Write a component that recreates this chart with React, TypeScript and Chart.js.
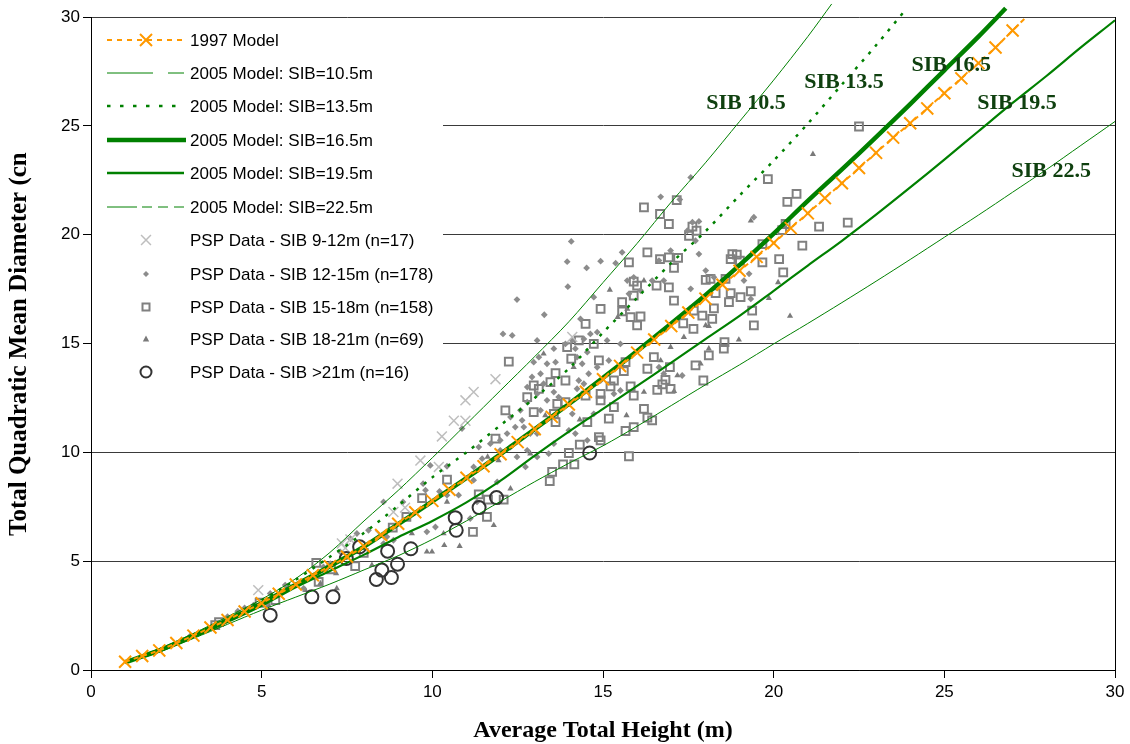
import React, { useEffect, useRef } from 'react';
import { Chart, registerables } from 'chart.js';

Chart.register(...registerables);

// ---------------- data ----------------
const xTickValues = [0, 5, 10, 15, 20, 25, 30];
const yTickValues = [0, 5, 10, 15, 20, 25, 30];

const h1997 = [1, 1.5, 2, 2.5, 3, 3.5, 4, 4.5, 5, 5.5, 6, 6.5, 7, 7.5, 8, 8.5, 9, 9.5, 10, 10.5, 11, 11.5, 12, 12.5, 13, 13.5, 14, 14.5, 15, 15.5, 16, 16.5, 17, 17.5, 18, 18.5, 19, 19.5, 20, 20.5, 21, 21.5, 22, 22.5, 23, 23.5, 24, 24.5, 25, 25.5, 26, 26.5, 27, 27.4];
const d1997 = [0.38, 0.64, 0.9, 1.24, 1.58, 1.95, 2.3, 2.69, 3.07, 3.5, 3.93, 4.35, 4.77, 5.2, 5.68, 6.2, 6.72, 7.25, 7.77, 8.28, 8.83, 9.36, 9.91, 10.47, 11.06, 11.63, 12.2, 12.78, 13.36, 13.97, 14.58, 15.18, 15.8, 16.42, 17.06, 17.7, 18.34, 18.98, 19.62, 20.3, 20.98, 21.68, 22.36, 23.06, 23.76, 24.46, 25.12, 25.8, 26.5, 27.18, 27.88, 28.6, 29.38, 30.0];

const hSib105 = [1, 2, 3, 4, 5, 6, 7, 8, 9, 10, 11, 12, 13, 14, 15, 16, 17, 18, 19, 20, 21, 21.7];
const dSib105 = [0.4, 0.98, 1.68, 2.45, 3.25, 4.2, 5.4, 6.85, 8.25, 9.75, 11.3, 12.85, 14.4, 16.0, 17.8, 19.6, 21.5, 23.3, 25.2, 27.1, 29.1, 30.6];

const hSib135 = [1, 2, 3, 4, 5, 6, 7, 8, 9, 10, 11, 12, 13, 14, 15, 16, 17, 18, 19, 20, 21, 22, 23, 23.9];
const dSib135 = [0.37, 0.9, 1.6, 2.35, 3.2, 4.15, 5.2, 6.3, 7.55, 8.85, 10.0, 11.25, 12.5, 13.85, 15.5, 17.1, 18.7, 20.15, 21.8, 23.4, 25.1, 26.9, 28.7, 30.4];

const hSib165 = [1, 2, 3, 4, 5, 6, 7, 8, 9, 10, 11, 12, 13, 14, 15, 16, 17, 18, 19, 20, 21, 22, 23, 24, 25, 26, 26.8];
const dSib165 = [0.36, 0.9, 1.58, 2.3, 3.07, 3.92, 4.77, 5.67, 6.7, 7.75, 8.82, 9.92, 11.07, 12.22, 13.42, 14.65, 15.92, 17.22, 18.6, 20.05, 21.55, 23.0, 24.48, 26.0, 27.55, 29.1, 30.4];

const hSib195 = [1, 2, 3, 4, 5, 6, 7, 8, 9, 10, 11, 12, 13, 14, 15, 16, 17, 18, 19, 20, 21, 22, 23, 24, 25, 26, 27, 28, 29, 30, 30.3];
const dSib195 = [0.35, 0.86, 1.5, 2.2, 2.95, 3.8, 4.55, 5.3, 6.1, 6.85, 7.7, 8.7, 9.85, 10.95, 12.0, 13.05, 14.12, 15.2, 16.27, 17.42, 18.58, 19.72, 20.92, 22.17, 23.45, 24.75, 26.05, 27.3, 28.6, 29.85, 30.25];

const hSib225 = [1, 2, 3, 4, 5, 6, 7, 8, 9, 10, 11, 12, 13, 14, 15, 16, 17, 18, 19, 20, 21, 22, 23, 24, 25, 26, 27, 28, 29, 30, 30.3];
const dSib225 = [0.33, 0.82, 1.45, 2.1, 2.75, 3.35, 3.95, 4.6, 5.25, 6.0, 6.85, 7.75, 8.65, 9.5, 10.3, 11.2, 12.15, 13.1, 14.02, 14.98, 15.92, 16.88, 17.86, 18.86, 19.88, 20.9, 21.95, 23.0, 24.1, 25.2, 25.55];

// PSP data: [height, diameter]
const psp9to12: number[][] = [
  [4.9, 3.67], [7.35, 5.81], [7.45, 5.6], [7.6, 6.0], [8.47, 6.19], [8.86, 7.26], [9.2, 7.46], [8.98, 8.56],
  [9.65, 9.62], [10.19, 9.33], [10.28, 10.73], [10.63, 11.45], [10.97, 11.45], [10.97, 12.39], [11.21, 12.77],
  [11.85, 13.36], [14.1, 15.3],
];

const psp12to15: number[][] = [
  [16.69, 21.74], [17.25, 21.61], [14.07, 19.69], [13.95, 18.76], [14.52, 18.47], [14.93, 18.78], [15.37, 18.69],
  [15.56, 19.19], [13.97, 17.61], [12.48, 17.02], [13.28, 16.32], [12.07, 15.44], [12.34, 15.37], [14.34, 16.13],
  [14.73, 17.13], [14.83, 15.52], [14.63, 15.44], [15.12, 15.14], [15.51, 14.98], [15.71, 17.89], [15.76, 17.28],
  [15.9, 18.04], [16.1, 17.43], [16.44, 17.89], [16.64, 18.81], [16.78, 17.89], [16.98, 19.27], [17.62, 20.57],
  [17.81, 20.61], [17.47, 20.18], [17.71, 19.72], [17.81, 19.11], [17.57, 17.51], [18.01, 18.35], [18.25, 18.04],
  [19.42, 20.8], [19.28, 18.2], [19.13, 17.89], [19.33, 17.05], [14.44, 15.21], [14.19, 14.76], [13.9, 14.98],
  [13.56, 14.76], [13.07, 15.14], [13.12, 14.37], [12.97, 14.14], [13.36, 14.07], [13.61, 14.14], [14.1, 15.14],
  [14.24, 14.37], [14.54, 14.6], [14.39, 14.07], [14.58, 13.61], [14.83, 13.91], [15.17, 14.22], [14.93, 13.3],
  [14.29, 13.3], [14.44, 13.15], [14.24, 12.92], [13.56, 12.77], [13.7, 12.54], [13.36, 12.39], [13.07, 12.69],
  [13.17, 11.93], [13.17, 13.61], [13.26, 13.15], [12.92, 13.46], [12.78, 13.0], [12.78, 12.31], [12.58, 11.93],
  [12.63, 11.47], [12.43, 11.16], [12.29, 11.62], [12.68, 11.16], [12.87, 10.86], [13.07, 10.86], [12.19, 10.86],
  [11.99, 10.55], [11.7, 10.4], [11.46, 9.71], [11.21, 9.33], [10.87, 11.09], [11.36, 10.24], [11.99, 10.09],
  [12.29, 10.24], [12.48, 9.79], [14.1, 11.77], [14.73, 11.77], [15.32, 12.69], [15.51, 12.84], [14.0, 11.01],
  [13.56, 10.4], [13.41, 9.94], [14.19, 10.86], [12.78, 10.09], [12.73, 9.33], [13.07, 9.79], [14.54, 10.55],
  [16.78, 13.61], [17.32, 13.53], [16.64, 13.91], [17.57, 22.63], [9.94, 9.4], [10.43, 9.36],
  [8.57, 7.72], [9.14, 7.72], [9.73, 8.56], [9.8, 8.26], [10.21, 8.2], [10.43, 8.03], [10.77, 8.03], [11.21, 8.72],
  [7.79, 6.27], [7.6, 6.04], [8.13, 6.42], [8.67, 6.12], [8.57, 5.81], [7.3, 5.43], [7.5, 5.2], [7.01, 4.89],
  [6.81, 4.74], [5.69, 3.9], [5.74, 3.75], [6.23, 3.75], [5.25, 3.52], [5.15, 3.06], [4.76, 2.98], [11.9, 8.64],
  [11.31, 7.72], [11.11, 6.96], [9.84, 6.35], [10.09, 6.57], [8.86, 5.96], [4.3, 2.7], [4.5, 2.85], [3.6, 1.95],
  [3.85, 2.15], [2.9, 1.55], [4.0, 2.45],
];

const psp15to18: number[][] = [
  [16.2, 21.25], [16.67, 20.95], [17.16, 21.59], [16.93, 20.49], [17.62, 20.37], [17.74, 20.18], [17.52, 19.95],
  [18.79, 19.11], [18.92, 19.08], [18.74, 18.88], [19.01, 18.81], [16.3, 19.19], [16.67, 18.88], [16.93, 18.96],
  [17.2, 18.93], [17.08, 18.47], [15.76, 18.73], [15.9, 17.84], [16.0, 17.66], [15.9, 17.2], [15.56, 16.9],
  [15.56, 16.48], [14.93, 16.59], [15.81, 16.21], [16.1, 16.24], [16.0, 15.83], [16.57, 17.66], [16.93, 17.58],
  [18.01, 17.92], [18.15, 17.97], [18.59, 17.97], [18.3, 17.31], [18.74, 17.31], [18.69, 16.9], [19.03, 17.13],
  [19.33, 17.4], [19.37, 16.51], [19.42, 15.83], [17.66, 16.51], [17.91, 16.28], [18.2, 16.13], [18.25, 16.61],
  [17.08, 16.97], [17.35, 15.93], [17.65, 15.67], [14.49, 15.9], [14.73, 14.98], [14.88, 14.22], [14.29, 15.14],
  [13.95, 14.83], [14.07, 14.3], [13.61, 13.64], [13.9, 13.3], [13.46, 13.23], [12.97, 13.07], [13.12, 12.92],
  [12.24, 14.17], [12.14, 11.93], [12.78, 12.54], [12.97, 11.85], [13.56, 11.77], [13.66, 12.23], [13.61, 11.39],
  [13.9, 12.31], [14.49, 12.61], [14.93, 12.69], [15.66, 14.14], [15.61, 13.73], [15.32, 13.3], [15.22, 13.03],
  [14.93, 12.39], [15.32, 12.08], [15.81, 13.03], [15.9, 12.61], [16.3, 13.84], [16.49, 14.37], [16.59, 12.87],
  [16.98, 12.92], [16.74, 13.12], [16.83, 13.33], [17.94, 13.3], [18.56, 15.06], [18.54, 14.76], [18.1, 14.45],
  [17.71, 13.99], [16.96, 13.91], [16.2, 12.0], [16.3, 11.59], [16.44, 11.47], [15.9, 11.16], [15.66, 10.98],
  [15.17, 11.55], [14.54, 11.39], [14.88, 10.7], [14.93, 10.55], [14.32, 10.35], [14.0, 9.97], [13.83, 9.45],
  [14.16, 9.45], [13.51, 9.1], [15.76, 9.82], [11.85, 10.63], [10.43, 8.75],
  [19.83, 22.55], [20.67, 21.87], [20.4, 21.51], [21.33, 20.37], [20.84, 19.5], [20.25, 20.21], [20.35, 20.49],
  [19.67, 19.57], [20.16, 18.88], [20.28, 18.27], [19.67, 18.73], [22.5, 24.97], [22.17, 20.55], [13.44, 8.68],
  [9.7, 7.9], [11.36, 8.07], [11.63, 7.83], [12.09, 7.83], [11.6, 7.03], [11.19, 6.35], [8.84, 6.54], [7.99, 5.38],
  [7.74, 4.77], [6.6, 4.92], [6.67, 4.05], [7.03, 4.62], [5.4, 3.21], [4.94, 3.09], [9.24, 7.03], [3.64, 2.06],
  [3.75, 2.2],
];

const psp18to21: number[][] = [
  [15.2, 17.46], [15.71, 16.59], [16.2, 17.89], [15.43, 16.21], [18.01, 15.83], [18.1, 15.8], [18.98, 15.17],
  [17.37, 15.29], [18.1, 14.76], [16.98, 14.83], [16.69, 14.22], [14.14, 13.91], [13.31, 11.7], [14.32, 11.5],
  [15.69, 11.7], [16.2, 12.77], [17.08, 12.81], [17.18, 13.53], [17.86, 14.07], [11.62, 9.79], [11.94, 9.63],
  [12.87, 9.94], [19.33, 20.64], [13.26, 14.53], [20.13, 17.81], [19.86, 17.08], [20.48, 16.26], [21.15, 23.7],
  [12.29, 8.33], [11.8, 6.65], [10.8, 5.69], [10.35, 5.73], [9.99, 5.43], [9.84, 5.43], [10.33, 6.27], [9.4, 6.27],
  [8.23, 4.82], [7.2, 3.75], [7.18, 4.44], [6.72, 3.98], [10.43, 7.72], [6.28, 3.67], [5.2, 2.98],
];

const psp21plus: number[][] = [
  [5.25, 2.52], [6.47, 3.36], [7.09, 3.36], [7.48, 5.12], [7.87, 5.66], [8.36, 4.16], [8.52, 4.59], [8.8, 4.25],
  [8.98, 4.86], [8.69, 5.46], [9.37, 5.57], [10.67, 7.0], [10.7, 6.42], [11.37, 7.46], [11.88, 7.92], [14.61, 9.97],
];

const seriesLabels = [
  '1997 Model',
  '2005 Model: SIB=10.5m',
  '2005 Model: SIB=13.5m',
  '2005 Model: SIB=16.5m',
  '2005 Model: SIB=19.5m',
  '2005 Model: SIB=22.5m',
  'PSP Data - SIB 9-12m (n=17)',
  'PSP Data - SIB 12-15m (n=178)',
  'PSP Data - SIB 15-18m (n=158)',
  'PSP Data - SIB 18-21m (n=69)',
  'PSP Data - SIB >21m (n=16)',
];

const curveLabels = ['SIB 10.5', 'SIB 13.5', 'SIB 16.5', 'SIB 19.5', 'SIB 22.5'];
const curveLabelX = [19.19, 22.06, 25.2, 27.13, 28.13];
const curveLabelY = [26.05, 27.0, 27.8, 26.05, 22.93];

const xTitle = 'Average Total Height (m)';
const yTitle = 'Total Quadratic Mean Diameter (cn';

// ---------------- styles ----------------
const ORANGE = '#FF9900';
const GREEN = '#008000';
const SANS = '"Liberation Sans", Arial, sans-serif';
const SERIF = '"Liberation Serif", "Times New Roman", serif';

const toPts = (xs: number[], ys: number[]) => xs.map((x, i) => ({ x, y: ys[i] }));
const pairPts = (arr: number[][]) => arr.map(([x, y]) => ({ x, y }));
const lineClip = { left: 0, top: 18, right: 15, bottom: 0 };

function drawCross(ctx: CanvasRenderingContext2D, x: number, y: number, r: number) {
  const o = r * Math.SQRT1_2;
  ctx.beginPath();
  ctx.moveTo(x - o, y - o);
  ctx.lineTo(x + o, y + o);
  ctx.moveTo(x + o, y - o);
  ctx.lineTo(x - o, y + o);
  ctx.stroke();
}

const overlayPlugin = {
  id: 'overlay',
  afterDraw(chart: any) {
    const ctx: CanvasRenderingContext2D = chart.ctx;
    const area = chart.chartArea;
    const xs = chart.scales.x;
    const ys = chart.scales.y;
    ctx.save();

    // right border of the plot area
    ctx.strokeStyle = '#000';
    ctx.lineWidth = 1;
    ctx.beginPath();
    ctx.moveTo(Math.round(area.right) + 0.5, area.top);
    ctx.lineTo(Math.round(area.right) + 0.5, area.bottom);
    ctx.stroke();

    // legend
    const lx0 = area.left + 1;
    const ly0 = area.top + 1;
    ctx.fillStyle = '#fff';
    ctx.fillRect(lx0, ly0, 351, 376);
    const rows = [40, 73, 106, 140, 173, 207, 240, 274, 307, 339, 372];
    const s0 = 107;
    const s1 = 184;
    const mx = 146;
    const seg = (a: number, b: number, y: number) => {
      ctx.beginPath();
      ctx.moveTo(a, y);
      ctx.lineTo(b, y);
      ctx.stroke();
    };
    ctx.lineCap = 'butt';
    // 1997 model
    ctx.strokeStyle = ORANGE;
    ctx.lineWidth = 2;
    ctx.setLineDash([5, 5]);
    seg(s0, s1, rows[0]);
    ctx.setLineDash([]);
    drawCross(ctx, mx, rows[0], 8.5);
    // 10.5
    ctx.strokeStyle = GREEN;
    ctx.lineWidth = 1;
    seg(s0, 153, rows[1]);
    seg(168, s1, rows[1]);
    // 13.5
    ctx.lineWidth = 2.5;
    ctx.setLineDash([3.5, 9.5]);
    seg(s0, s1, rows[2]);
    ctx.setLineDash([]);
    // 16.5
    ctx.lineWidth = 4.5;
    seg(s0, 186, rows[3]);
    // 19.5
    ctx.lineWidth = 2.5;
    seg(s0, s1, rows[4]);
    // 22.5
    ctx.lineWidth = 1;
    seg(s0, 137, rows[5]);
    seg(142, 152, rows[5]);
    seg(158, 168, rows[5]);
    seg(174, s1, rows[5]);
    // markers
    ctx.strokeStyle = '#BEBEBE';
    ctx.lineWidth = 1.5;
    drawCross(ctx, mx, rows[6], 7);
    ctx.fillStyle = '#8C8C8C';
    ctx.beginPath();
    ctx.moveTo(mx, rows[7] - 3);
    ctx.lineTo(mx + 3, rows[7]);
    ctx.lineTo(mx, rows[7] + 3);
    ctx.lineTo(mx - 3, rows[7]);
    ctx.closePath();
    ctx.fill();
    ctx.strokeStyle = '#808080';
    ctx.lineWidth = 2;
    ctx.strokeRect(mx - 3.5, rows[8] - 3.5, 7, 7);
    ctx.fillStyle = '#7A7A7A';
    ctx.beginPath();
    ctx.moveTo(mx, rows[9] - 3.5);
    ctx.lineTo(mx + 3.2, rows[9] + 2.5);
    ctx.lineTo(mx - 3.2, rows[9] + 2.5);
    ctx.closePath();
    ctx.fill();
    ctx.strokeStyle = '#333';
    ctx.lineWidth = 2;
    ctx.beginPath();
    ctx.arc(mx, rows[10], 5.5, 0, Math.PI * 2);
    ctx.stroke();
    // legend texts
    ctx.fillStyle = '#000';
    ctx.font = '17px ' + SANS;
    ctx.textAlign = 'left';
    ctx.textBaseline = 'middle';
    seriesLabels.forEach((t, i) => ctx.fillText(t, 190, rows[i] + 1));

    // curve labels
    ctx.fillStyle = '#0F400F';
    ctx.font = 'bold 22px ' + SERIF;
    ctx.textAlign = 'center';
    curveLabels.forEach((t, i) => {
      ctx.fillText(t, xs.getPixelForValue(curveLabelX[i]), ys.getPixelForValue(curveLabelY[i]));
    });

    // axis titles
    ctx.fillStyle = '#000';
    ctx.font = 'bold 24px ' + SERIF;
    ctx.fillText(xTitle, (area.left + area.right) / 2, 731);
    ctx.save();
    ctx.translate(20, 536);
    ctx.rotate(-Math.PI / 2);
    ctx.textAlign = 'left';
    ctx.font = 'bold 25px ' + SERIF;
    ctx.fillText(yTitle, 0, 0);
    ctx.restore();

    ctx.restore();
  },
};

export default function App() {
  const canvasRef = useRef<HTMLCanvasElement | null>(null);

  useEffect(() => {
    const canvas = canvasRef.current;
    if (!canvas) return;
    const last1997 = h1997.length - 1;
    const lineBase = {
      showLine: true,
      pointRadius: 0,
      pointHoverRadius: 0,
      pointHitRadius: 0,
      borderColor: GREEN,
      backgroundColor: GREEN,
      fill: false,
      tension: 0.3,
      clip: lineClip,
    };
    const chart = new Chart(canvas, {
      type: 'scatter',
      data: {
        datasets: [
          {
            label: seriesLabels[0],
            data: toPts(h1997, d1997),
            showLine: true,
            borderColor: ORANGE,
            backgroundColor: ORANGE,
            borderWidth: 2,
            borderDash: [5, 4],
            tension: 0.2,
            pointStyle: 'crossRot',
            pointRadius: (c: any) => (c.dataIndex === last1997 ? 0 : 8.5),
            pointBorderColor: ORANGE,
            pointBorderWidth: 2,
            clip: lineClip,
            order: 0,
          },
          { ...lineBase, label: seriesLabels[1], data: toPts(hSib105, dSib105), borderWidth: 1, order: 2 },
          { ...lineBase, label: seriesLabels[2], data: toPts(hSib135, dSib135), borderWidth: 2.5, borderDash: [3, 7], order: 2 },
          { ...lineBase, label: seriesLabels[3], data: toPts(hSib165, dSib165), borderWidth: 4.5, order: 1 },
          { ...lineBase, label: seriesLabels[4], data: toPts(hSib195, dSib195), borderWidth: 2.2, order: 2 },
          { ...lineBase, label: seriesLabels[5], data: toPts(hSib225, dSib225), borderWidth: 1, order: 2 },
          {
            label: seriesLabels[6],
            data: pairPts(psp9to12),
            pointStyle: 'crossRot',
            pointRadius: 7,
            pointBorderWidth: 1.5,
            pointBorderColor: '#BEBEBE',
            borderColor: '#BEBEBE',
            backgroundColor: '#BEBEBE',
            order: 4,
          },
          {
            label: seriesLabels[7],
            data: pairPts(psp12to15),
            pointStyle: 'rectRot',
            pointRadius: 3.4,
            pointBorderWidth: 0,
            pointBackgroundColor: '#8C8C8C',
            pointBorderColor: '#8C8C8C',
            borderColor: '#8C8C8C',
            backgroundColor: '#8C8C8C',
            order: 5,
          },
          {
            label: seriesLabels[8],
            data: pairPts(psp15to18),
            pointStyle: 'rect',
            pointRadius: 5.5,
            pointBorderWidth: 2,
            pointBackgroundColor: 'rgba(0,0,0,0)',
            pointBorderColor: '#808080',
            borderColor: '#808080',
            backgroundColor: 'rgba(0,0,0,0)',
            order: 5,
          },
          {
            label: seriesLabels[9],
            data: pairPts(psp18to21),
            pointStyle: 'triangle',
            pointRadius: 3.6,
            pointBorderWidth: 0,
            pointBackgroundColor: '#7A7A7A',
            pointBorderColor: '#7A7A7A',
            borderColor: '#7A7A7A',
            backgroundColor: '#7A7A7A',
            order: 5,
          },
          {
            label: seriesLabels[10],
            data: pairPts(psp21plus),
            pointStyle: 'circle',
            pointRadius: 6.5,
            pointBorderWidth: 2,
            pointBackgroundColor: 'rgba(0,0,0,0)',
            pointBorderColor: '#333333',
            borderColor: '#333333',
            backgroundColor: 'rgba(0,0,0,0)',
            order: 3,
          },
        ] as any,
      },
      options: {
        animation: false,
        responsive: false,
        devicePixelRatio: 1,
        events: [],
        layout: { padding: { top: 17, right: 15, left: 0, bottom: 0 } },
        plugins: {
          legend: { display: false },
          tooltip: { enabled: false },
          title: { display: false },
        },
        scales: {
          x: {
            type: 'linear',
            min: 0,
            max: 30,
            afterBuildTicks: (s: any) => {
              s.ticks = xTickValues.map((v) => ({ value: v }));
            },
            afterFit: (s: any) => {
              s.height = 74;
            },
            ticks: {
              color: '#000',
              font: { family: SANS, size: 17 },
              padding: 4,
              maxRotation: 0,
              autoSkip: false,
            },
            grid: {
              display: true,
              drawOnChartArea: false,
              drawTicks: true,
              tickLength: 8,
              tickColor: '#000',
            },
            border: { display: true, color: '#000', width: 1 },
          },
          y: {
            type: 'linear',
            min: 0,
            max: 30,
            afterBuildTicks: (s: any) => {
              s.ticks = yTickValues.map((v) => ({ value: v }));
            },
            afterFit: (s: any) => {
              s.width = 91;
            },
            ticks: {
              color: '#000',
              font: { family: SANS, size: 17 },
              padding: 3,
              autoSkip: false,
            },
            grid: {
              display: true,
              drawOnChartArea: true,
              drawTicks: true,
              tickLength: 8,
              color: '#3A3A3A',
              tickColor: '#000',
              lineWidth: 1,
            },
            border: { display: true, color: '#000', width: 1 },
          },
        },
      } as any,
      plugins: [overlayPlugin],
    });
    return () => chart.destroy();
  }, []);

  return (
    <div style={{ position: 'absolute', left: 0, top: 0, width: 1130, height: 744, background: '#fff' }}>
      <canvas ref={canvasRef} width={1130} height={744} style={{ display: 'block', width: 1130, height: 744 }} />
    </div>
  );
}
